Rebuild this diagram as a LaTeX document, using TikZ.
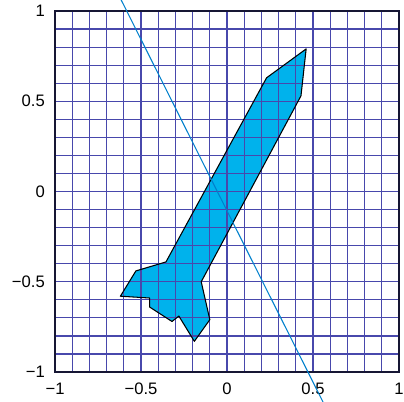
\documentclass[tikz,border=0pt]{standalone}
\usepackage{fontspec}
\setmainfont{Liberation Sans}
\definecolor{gridnavy}{RGB}{72,72,172}
\definecolor{rocketfill}{RGB}{0,178,236}
\definecolor{lineblue}{RGB}{0,128,204}
\def\rocketpath{(0.46,0.79) -- (0.23,0.63) -- (-0.355,-0.39) -- (-0.53,-0.44)
  -- (-0.62,-0.58) -- (-0.45,-0.59) -- (-0.45,-0.64) -- (-0.32,-0.72)
  -- (-0.28,-0.69) -- (-0.19,-0.83) -- (-0.10,-0.71) -- (-0.15,-0.50)
  -- (0.43,0.53) -- cycle}
\begin{document}
\begin{tikzpicture}[x=4cm,y=4.198cm,
  ticklabel/.style={font=\fontsize{11}{13}\selectfont,inner sep=0pt},
  gridline/.style={gridnavy,line width=0.8pt}]
  \useasboundingbox (-1.320,-1.166) rectangle (1.029,1.061);
  \clip (-1.320,-1.166) rectangle (1.029,1.061);
  % rocket
  \fill[rocketfill] \rocketpath;
  % grid
  \foreach \i in {-10,...,10}{
    \draw[gridline] (\i/10,-1) -- (\i/10,1);
    \draw[gridline] (-1,\i/10) -- (1,\i/10);
  }
  \draw[line width=0.9pt,black!70!gridnavy] (-1,-1) rectangle (1,1);
  \draw[line width=0.7pt,line join=round] \rocketpath;
  % tick labels
  \foreach \v/\t [count=\k] in {-1/−1,-0.5/−0.5,0/0,0.5/0.5,1/1}{
    \node[ticklabel,anchor=north] (xlab\k) at (\v,-1.061) {\t};
    \node[ticklabel,anchor=east] (ylab\k) at (-1.058,\v) {\t};
  }
  % line
  \coordinate (lineTop) at (-0.62,1.07);
  \coordinate (lineBot) at (0.56,-1.17);
  \draw[lineblue,line width=0.7pt] (lineTop) -- (lineBot);
\end{tikzpicture}
\end{document}
